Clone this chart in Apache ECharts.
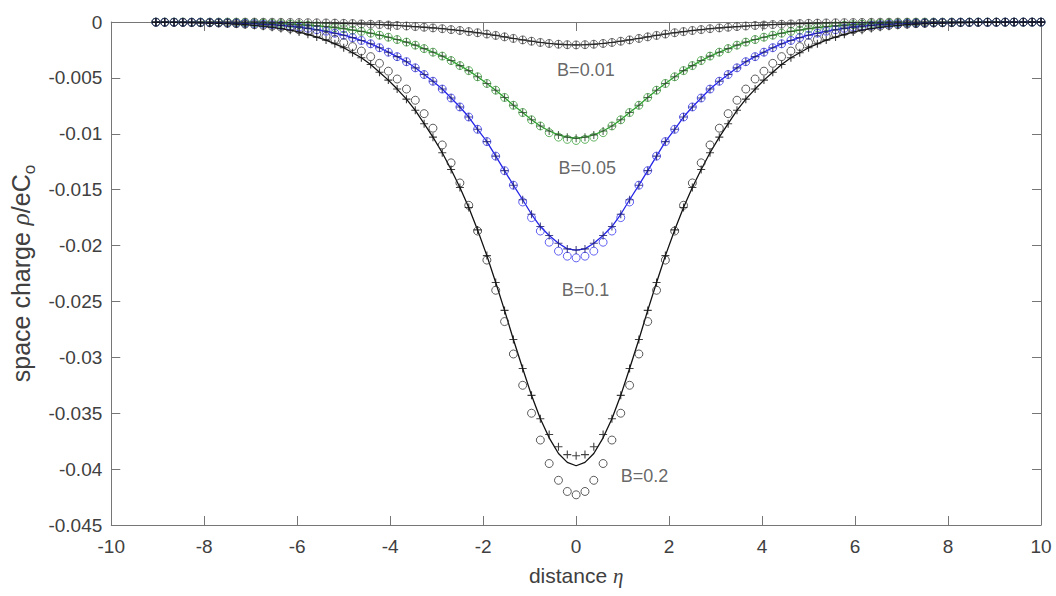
<!DOCTYPE html>
<html><head><meta charset="utf-8">
<script src="https://cdn.jsdelivr.net/npm/echarts@6/dist/echarts.min.js"></script>
<style>html,body{margin:0;padding:0;background:#fff}#c{width:1056px;height:596px}</style>
</head><body><div id="c"></div>
<script>
// distance eta (marker / sample positions)
const ETA = [-9.04,-8.85,-8.65,-8.46,-8.27,-8.08,-7.88,-7.69,-7.50,-7.31,-7.12,-6.92,-6.73,-6.54,-6.35,-6.15,-5.96,-5.77,-5.58,-5.38,-5.19,-5.00,-4.81,-4.62,-4.42,-4.23,-4.04,-3.85,-3.65,-3.46,-3.27,-3.08,-2.88,-2.69,-2.50,-2.31,-2.12,-1.92,-1.73,-1.54,-1.35,-1.15,-0.96,-0.77,-0.58,-0.38,-0.19,0,0.19,0.38,0.58,0.77,0.96,1.15,1.35,1.54,1.73,1.92,2.12,2.31,2.50,2.69,2.88,3.08,3.27,3.46,3.65,3.85,4.04,4.23,4.42,4.62,4.81,5.00,5.19,5.38,5.58,5.77,5.96,6.15,6.35,6.54,6.73,6.92,7.12,7.31,7.50,7.69,7.88,8.08,8.27,8.46,8.65,8.85,9.04,9.23,9.42,9.62,9.81,10.00];

// space charge values, in units of 1e-3
const UNIT = 1e-3;
const B001 = [-0.01,-0.01,-0.01,-0.01,-0.01,-0.01,-0.01,-0.01,-0.01,-0.01,-0.01,-0.01,-0.02,-0.02,-0.03,-0.04,-0.05,-0.06,-0.07,-0.08,-0.1,-0.12,-0.14,-0.17,-0.2,-0.23,-0.27,-0.31,-0.36,-0.41,-0.47,-0.53,-0.6,-0.68,-0.76,-0.86,-0.96,-1.08,-1.2,-1.33,-1.47,-1.6,-1.72,-1.83,-1.92,-1.99,-2.03,-2.05,-2.03,-1.99,-1.92,-1.83,-1.72,-1.6,-1.47,-1.33,-1.2,-1.08,-0.96,-0.86,-0.76,-0.68,-0.6,-0.53,-0.47,-0.41,-0.36,-0.31,-0.27,-0.23,-0.2,-0.17,-0.14,-0.12,-0.1,-0.08,-0.07,-0.06,-0.05,-0.04,-0.03,-0.02,-0.02,-0.01,-0.01,-0.01,-0.01,-0.01,-0.01,-0.01,-0.01,-0.01,-0.01,-0.01,-0.01,-0.01,-0.01,-0.01,-0.01,-0.01];

const B005 = [-0.01,-0.01,-0.01,-0.01,-0.02,-0.02,-0.03,-0.03,-0.04,-0.05,-0.06,-0.08,-0.1,-0.12,-0.15,-0.19,-0.24,-0.29,-0.35,-0.42,-0.51,-0.6,-0.72,-0.84,-1.0,-1.18,-1.36,-1.57,-1.8,-2.07,-2.38,-2.7,-3.05,-3.45,-3.9,-4.35,-4.9,-5.5,-6.1,-6.75,-7.45,-8.1,-8.75,-9.3,-9.75,-10.1,-10.3,-10.4,-10.3,-10.1,-9.75,-9.3,-8.75,-8.1,-7.45,-6.75,-6.1,-5.5,-4.9,-4.35,-3.9,-3.45,-3.05,-2.7,-2.38,-2.07,-1.8,-1.57,-1.36,-1.18,-1.0,-0.84,-0.72,-0.6,-0.51,-0.42,-0.35,-0.29,-0.24,-0.19,-0.15,-0.12,-0.1,-0.08,-0.06,-0.05,-0.04,-0.03,-0.03,-0.02,-0.02,-0.01,-0.01,-0.01,-0.01,-0.01,-0.01,-0.01,-0.01,-0.01];
const B005_O = [-0.01,-0.01,-0.01,-0.01,-0.02,-0.02,-0.03,-0.03,-0.04,-0.05,-0.06,-0.08,-0.1,-0.12,-0.15,-0.19,-0.24,-0.29,-0.35,-0.42,-0.51,-0.6,-0.72,-0.84,-1.0,-1.18,-1.36,-1.57,-1.8,-2.07,-2.38,-2.7,-3.05,-3.45,-3.9,-4.35,-4.9,-5.5,-6.1,-6.75,-7.45,-8.1,-8.75,-9.3,-9.9,-10.3,-10.5,-10.6,-10.5,-10.3,-9.9,-9.3,-8.75,-8.1,-7.45,-6.75,-6.1,-5.5,-4.9,-4.35,-3.9,-3.45,-3.05,-2.7,-2.38,-2.07,-1.8,-1.57,-1.36,-1.18,-1.0,-0.84,-0.72,-0.6,-0.51,-0.42,-0.35,-0.29,-0.24,-0.19,-0.15,-0.12,-0.1,-0.08,-0.06,-0.05,-0.04,-0.03,-0.03,-0.02,-0.02,-0.01,-0.01,-0.01,-0.01,-0.01,-0.01,-0.01,-0.01,-0.01];

const B01 = [-0.02,-0.02,-0.02,-0.03,-0.03,-0.04,-0.05,-0.06,-0.08,-0.1,-0.12,-0.15,-0.2,-0.24,-0.3,-0.38,-0.46,-0.57,-0.69,-0.83,-1.0,-1.18,-1.4,-1.65,-1.95,-2.3,-2.7,-3.1,-3.55,-4.1,-4.7,-5.3,-6.0,-6.8,-7.6,-8.5,-9.6,-10.7,-12.0,-13.3,-14.6,-15.9,-17.2,-18.3,-19.1,-19.8,-20.3,-20.4,-20.3,-19.8,-19.1,-18.3,-17.2,-15.9,-14.6,-13.3,-12.0,-10.7,-9.6,-8.5,-7.6,-6.8,-6.0,-5.3,-4.7,-4.1,-3.55,-3.1,-2.7,-2.3,-1.95,-1.65,-1.4,-1.18,-1.0,-0.83,-0.69,-0.57,-0.46,-0.38,-0.3,-0.24,-0.2,-0.15,-0.12,-0.1,-0.08,-0.06,-0.05,-0.04,-0.03,-0.03,-0.02,-0.02,-0.02,-0.01,-0.01,-0.01,-0.01,-0.01];
const B01_O = [-0.02,-0.02,-0.02,-0.03,-0.03,-0.04,-0.05,-0.06,-0.08,-0.1,-0.12,-0.15,-0.2,-0.24,-0.3,-0.38,-0.46,-0.57,-0.69,-0.83,-1.0,-1.18,-1.4,-1.65,-1.95,-2.3,-2.7,-3.1,-3.55,-4.1,-4.7,-5.3,-6.0,-6.8,-7.6,-8.5,-9.6,-10.7,-12.0,-13.3,-14.6,-16.1,-17.5,-18.7,-19.7,-20.5,-20.95,-21.1,-20.95,-20.5,-19.7,-18.7,-17.5,-16.1,-14.6,-13.3,-12.0,-10.7,-9.6,-8.5,-7.6,-6.8,-6.0,-5.3,-4.7,-4.1,-3.55,-3.1,-2.7,-2.3,-1.95,-1.65,-1.4,-1.18,-1.0,-0.83,-0.69,-0.57,-0.46,-0.38,-0.3,-0.24,-0.2,-0.15,-0.12,-0.1,-0.08,-0.06,-0.05,-0.04,-0.03,-0.03,-0.02,-0.02,-0.02,-0.01,-0.01,-0.01,-0.01,-0.01];

const B02 = [-0.03,-0.03,-0.04,-0.05,-0.06,-0.08,-0.1,-0.12,-0.15,-0.19,-0.24,-0.3,-0.38,-0.47,-0.59,-0.73,-0.9,-1.1,-1.35,-1.62,-1.95,-2.3,-2.75,-3.2,-3.8,-4.5,-5.2,-6.0,-6.9,-7.9,-9.1,-10.3,-11.7,-13.2,-14.8,-16.6,-18.6,-20.9,-23.3,-25.8,-28.4,-31.0,-33.4,-35.5,-37.2,-38.6,-39.4,-39.7,-39.4,-38.6,-37.2,-35.5,-33.4,-31.0,-28.4,-25.8,-23.3,-20.9,-18.6,-16.6,-14.8,-13.2,-11.7,-10.3,-9.1,-7.9,-6.9,-6.0,-5.2,-4.5,-3.8,-3.2,-2.75,-2.3,-1.95,-1.62,-1.35,-1.1,-0.9,-0.73,-0.59,-0.47,-0.38,-0.3,-0.24,-0.19,-0.15,-0.12,-0.1,-0.08,-0.06,-0.05,-0.04,-0.03,-0.03,-0.02,-0.02,-0.02,-0.01,-0.01];
const B02_O = [-0.02,-0.03,-0.03,-0.04,-0.05,-0.06,-0.07,-0.09,-0.12,-0.15,-0.19,-0.24,-0.3,-0.37,-0.46,-0.57,-0.7,-0.86,-1.05,-1.28,-1.55,-1.85,-2.2,-2.6,-3.1,-3.7,-4.4,-5.1,-6.0,-7.0,-8.2,-9.5,-11.0,-12.6,-14.4,-16.4,-18.7,-21.3,-24.0,-26.8,-29.7,-32.5,-35.0,-37.4,-39.5,-41.0,-42.0,-42.3,-42.0,-41.0,-39.5,-37.4,-35.0,-32.5,-29.7,-26.8,-24.0,-21.3,-18.7,-16.4,-14.4,-12.6,-11.0,-9.5,-8.2,-7.0,-6.0,-5.1,-4.4,-3.7,-3.1,-2.6,-2.2,-1.85,-1.55,-1.28,-1.05,-0.86,-0.7,-0.57,-0.46,-0.37,-0.3,-0.24,-0.19,-0.15,-0.12,-0.09,-0.07,-0.06,-0.05,-0.04,-0.03,-0.03,-0.02,-0.02,-0.01,-0.01,-0.01,-0.01];
const B02_P = [-0.03,-0.03,-0.04,-0.05,-0.06,-0.08,-0.1,-0.12,-0.15,-0.19,-0.24,-0.3,-0.38,-0.47,-0.59,-0.73,-0.9,-1.1,-1.35,-1.62,-1.95,-2.3,-2.75,-3.2,-3.8,-4.5,-5.2,-6.0,-6.9,-7.9,-9.1,-10.3,-11.7,-13.2,-14.8,-16.6,-18.6,-20.9,-23.3,-25.8,-28.4,-31.0,-33.4,-35.5,-36.9,-38.0,-38.7,-38.8,-38.7,-38.0,-36.9,-35.5,-33.4,-31.0,-28.4,-25.8,-23.3,-20.9,-18.6,-16.6,-14.8,-13.2,-11.7,-10.3,-9.1,-7.9,-6.9,-6.0,-5.2,-4.5,-3.8,-3.2,-2.75,-2.3,-1.95,-1.62,-1.35,-1.1,-0.9,-0.73,-0.59,-0.47,-0.38,-0.3,-0.24,-0.19,-0.15,-0.12,-0.1,-0.08,-0.06,-0.05,-0.04,-0.03,-0.03,-0.02,-0.02,-0.02,-0.01,-0.01];

// curve annotations
const NOTE_TEXT = ['B=0.01','B=0.05','B=0.1','B=0.2'];
const NOTE_X = [0.21, 0.24, 0.20, 1.47];
const NOTE_Y = [-0.00425, -0.01306, -0.02397, -0.0406];

const X_TICKS = {min:-10, max:10, step:2};
const Y_TICKS = {min:-0.045, max:0, step:0.005};

const FONT = '"Liberation Sans", Arial, Helvetica, sans-serif';
const SERIF = '"Liberation Serif", "Times New Roman", serif';
const PLUS = 'path://M0,5L10,5M5,0L5,10';
const TXT = '#404040';

function pts(ys){ return ETA.map((x,i)=>[x, ys[i]*UNIT]); }
function lineS(ys,color){ return {type:'line', data:pts(ys), showSymbol:false, symbol:'none', lineStyle:{color:color, width:1.3}, silent:true, z:2}; }
function circS(ys,color){ return {type:'scatter', data:pts(ys), symbol:'circle', symbolSize:8, itemStyle:{color:'rgba(0,0,0,0)', borderColor:color, borderWidth:1}, silent:true, z:3}; }
function plusS(ys,color){ return {type:'scatter', data:pts(ys), symbol:PLUS, symbolSize:8, itemStyle:{color:'rgba(0,0,0,0)', borderColor:color, borderWidth:1.1}, silent:true, z:4}; }

const AX = '#767676';
function xAx(pos, labels){
  return {type:'value', position:pos, min:X_TICKS.min, max:X_TICKS.max, interval:X_TICKS.step,
    axisLine:{show:true, onZero:false, lineStyle:{color:AX, width:1}},
    axisTick:{show:true, inside:true, length:9, lineStyle:{color:AX, width:1}},
    axisLabel:{show:labels, fontSize:19, color:TXT, margin:12, fontFamily:FONT},
    splitLine:{show:false}};
}
function yAx(pos, labels){
  return {type:'value', position:pos, min:Y_TICKS.min, max:Y_TICKS.max, interval:Y_TICKS.step,
    axisLine:{show:true, onZero:false, lineStyle:{color:AX, width:1}},
    axisTick:{show:true, inside:true, length:9, lineStyle:{color:AX, width:1}},
    axisLabel:{show:labels, fontSize:19, color:TXT, margin:9, fontFamily:FONT,
      formatter:function(v){ const r = Math.round(v*1000)/1000; return r===0 ? '0' : String(r); }},
    splitLine:{show:false}};
}

const xa0 = xAx('bottom', true);
xa0.name = '{a|distance }{i|η}';
xa0.nameLocation = 'middle';
xa0.nameGap = 40;
xa0.nameTextStyle = {rich:{a:{fontSize:21, color:TXT, fontFamily:FONT}, i:{fontSize:21, color:TXT, fontFamily:SERIF, fontStyle:'italic'}}};
const ya0 = yAx('left', true);
ya0.name = '{a|space charge }{i|ρ}{a|/eC}{s|o}';
ya0.nameLocation = 'middle';
ya0.nameGap = 65;
ya0.nameTextStyle = {rich:{
  a:{fontSize:25, color:TXT, fontFamily:FONT, lineHeight:34, verticalAlign:'middle'},
  i:{fontSize:25, color:TXT, fontFamily:SERIF, fontStyle:'italic', lineHeight:34, verticalAlign:'middle'},
  s:{fontSize:17, color:TXT, fontFamily:FONT, lineHeight:34, verticalAlign:'bottom'}}};

const chart = echarts.init(document.getElementById('c'), null, {renderer:'svg'});
chart.setOption({
  animation:false,
  backgroundColor:'#fff',
  grid:{left:109, right:15, top:22, bottom:71, containLabel:false},
  xAxis:[xa0, xAx('top', false)],
  yAxis:[ya0, yAx('right', false)],
  series:[
    lineS(B001,'#333333'), circS(B001,'#555555'), plusS(B001,'#222222'),
    lineS(B005,'#2f9f2f'), circS(B005_O,'#3da23d'), plusS(B005,'#2b452b'),
    lineS(B01,'#2626e6'), circS(B01_O,'#3b3bf0'), plusS(B01,'#1a1a70'),
    lineS(B02,'#111111'), circS(B02_O,'#333333'), plusS(B02_P,'#111111'),
    {type:'scatter', data:NOTE_TEXT.map((t,i)=>[NOTE_X[i], NOTE_Y[i], t]), symbolSize:1,
     itemStyle:{color:'rgba(0,0,0,0)'}, silent:true, z:5,
     label:{show:true, position:'inside', formatter:function(p){return p.data[2];}, fontSize:18, color:TXT, fontFamily:FONT}}
  ]
});
</script></body></html>
